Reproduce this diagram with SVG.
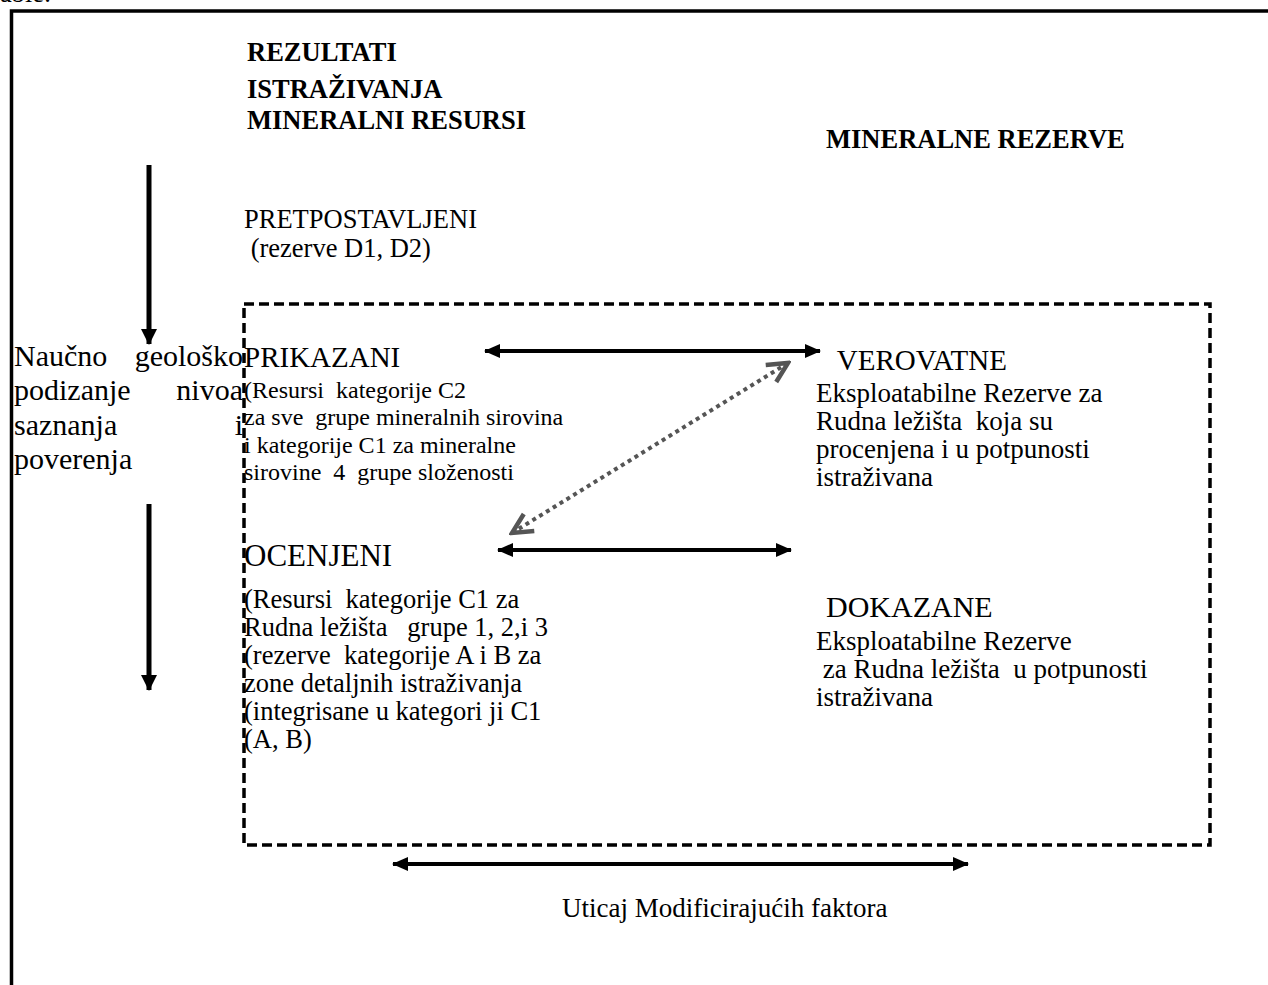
<svg xmlns="http://www.w3.org/2000/svg" width="1268" height="985" viewBox="0 0 1268 985">
  <style>
    text { font-family: "Liberation Serif", "Times New Roman", serif; fill: #000; white-space: pre; }
    .hd { font-weight: bold; font-size: 26.5px; }
    .big { font-size: 30px; }
    .mid { font-size: 26.5px; }
    .rt { font-size: 27px; }
    .sm { font-size: 24px; }
    .frame { stroke: #000; stroke-width: 3.5; fill: none; }
    .zone { stroke: #000; stroke-width: 3.5; fill: none; stroke-dasharray: 10 5; }
    .arrow { stroke: #000; stroke-width: 4; fill: none; }
    .varrow { stroke: #000; stroke-width: 5; fill: none; }
    .dotted { stroke: #555; stroke-width: 4; fill: none; stroke-dasharray: 4 4; }
  </style>
  <defs>
    <marker id="head" viewBox="0 0 16 16" refX="15" refY="8" markerWidth="16" markerHeight="16" markerUnits="userSpaceOnUse" orient="auto-start-reverse">
      <path d="M0,1 L16,8 L0,15 z" fill="#000"/>
    </marker>
    <marker id="vhead" viewBox="0 0 16 16" refX="15" refY="8" markerWidth="16" markerHeight="16" markerUnits="userSpaceOnUse" orient="auto-start-reverse">
      <path d="M0,0 L16,8 L0,16 z" fill="#000"/>
    </marker>
    <marker id="chevron" viewBox="0 0 26 26" refX="23" refY="13" markerWidth="26" markerHeight="26" markerUnits="userSpaceOnUse" orient="auto-start-reverse">
      <path d="M3,3 L23,13 L3,23" fill="none" stroke="#555" stroke-width="4.5" stroke-linejoin="miter"/>
    </marker>
  </defs>

  <rect width="1268" height="985" fill="#fff"/>

  <!-- caption fragment above the frame -->
  <text class="mid" x="0" y="2">able.</text>

  <!-- outer frame: top and left edges -->
  <g id="frame">
    <path class="frame" d="M1268,11 H11.5 V985"/>
  </g>

  <!-- dashed zone around the categorised resources and reserves -->
  <g id="zone">
    <rect class="zone" x="244" y="304" width="966" height="541"/>
  </g>

  <g id="heading-resources">
    <text class="hd" x="247" y="61">REZULTATI</text>
    <text class="hd" x="247" y="98">ISTRAŽIVANJA</text>
    <text class="hd" x="247" y="129">MINERALNI RESURSI</text>
  </g>

  <g id="heading-reserves">
    <text class="hd" x="826" y="148">MINERALNE REZERVE</text>
  </g>

  <g id="pretpostavljeni">
    <text class="mid" x="244" y="228">PRETPOSTAVLJENI</text>
    <text class="mid" x="244" y="257"> (rezerve D1, D2)</text>
  </g>

  <g id="side-label">
    <text class="big" x="14" y="366">Naučno</text>
    <text class="big" x="243" y="366" text-anchor="end">geološko</text>
    <text class="big" x="14" y="400">podizanje</text>
    <text class="big" x="243" y="400" text-anchor="end">nivoa</text>
    <text class="big" x="14" y="435">saznanja</text>
    <text class="big" x="243" y="435" text-anchor="end">i</text>
    <text class="big" x="14" y="469">poverenja</text>
  </g>

  <g id="prikazani">
    <text class="big" x="244" y="367" style="font-size:29px">PRIKAZANI</text>
    <text class="sm" x="244" y="398">(Resursi  kategorije C2</text>
    <text class="sm" x="244" y="425">za sve  grupe mineralnih sirovina</text>
    <text class="sm" x="244" y="453">i kategorije C1 za mineralne</text>
    <text class="sm" x="244" y="480">sirovine  4  grupe složenosti</text>
  </g>

  <g id="verovatne">
    <text class="big" x="830" y="370" style="font-size:29px"> VEROVATNE</text>
    <text class="rt" x="816" y="402">Eksploatabilne Rezerve za</text>
    <text class="rt" x="816" y="430">Rudna ležišta  koja su</text>
    <text class="rt" x="816" y="458">procenjena i u potpunosti</text>
    <text class="rt" x="816" y="486">istraživana</text>
  </g>

  <g id="ocenjeni">
    <text class="big" x="244" y="566" style="font-size:31px">OCENJENI</text>
    <text class="mid" x="244" y="608">(Resursi  kategorije C1 za</text>
    <text class="mid" x="244" y="636">Rudna ležišta   grupe 1, 2,i 3</text>
    <text class="mid" x="244" y="664">(rezerve  kategorije A i B za</text>
    <text class="mid" x="244" y="692">zone detaljnih istraživanja</text>
    <text class="mid" x="244" y="720">(integrisane u kategori ji C1</text>
    <text class="mid" x="244" y="748">(A, B)</text>
  </g>

  <g id="dokazane">
    <text class="big" x="826" y="617">DOKAZANE</text>
    <text class="rt" x="816" y="650">Eksploatabilne Rezerve</text>
    <text class="rt" x="816" y="678"> za Rudna ležišta  u potpunosti</text>
    <text class="rt" x="816" y="706">istraživana</text>
  </g>

  <g id="modifying-factors">
    <text class="big" x="562" y="917" style="font-size:27px">Uticaj Modificirajućih faktora</text>
  </g>

  <g id="connectors">
    <line class="varrow" x1="149" y1="165" x2="149" y2="344" marker-end="url(#vhead)"/>
    <line class="varrow" x1="149" y1="504" x2="149" y2="690" marker-end="url(#vhead)"/>
    <line class="arrow" x1="485" y1="351" x2="820" y2="351" marker-start="url(#head)" marker-end="url(#head)"/>
    <line class="arrow" x1="498" y1="550" x2="791" y2="550" marker-start="url(#head)" marker-end="url(#head)"/>
    <line class="arrow" x1="393" y1="864" x2="968" y2="864" marker-start="url(#head)" marker-end="url(#head)"/>
    <line class="dotted" x1="512" y1="533" x2="788" y2="363" marker-start="url(#chevron)" marker-end="url(#chevron)"/>
  </g>
</svg>
